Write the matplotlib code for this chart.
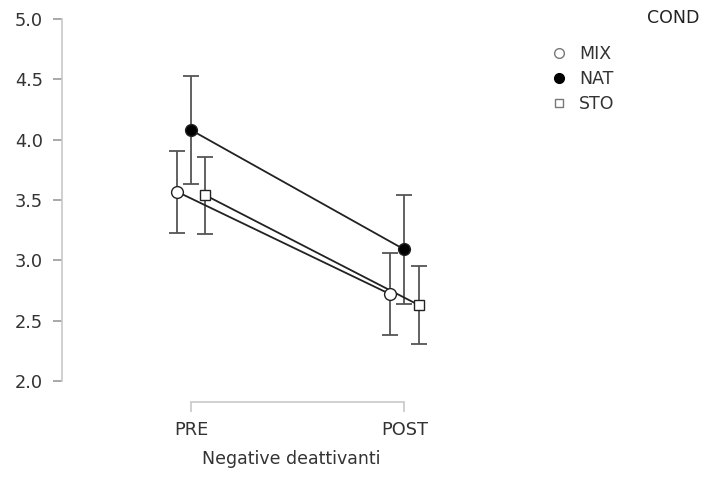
import matplotlib.pyplot as plt
import numpy as np
from matplotlib.lines import Line2D

times = ["PRE", "POST"]
groups = ["MIX", "NAT", "STO"]
means = {
    "MIX": [3.57, 2.72],
    "NAT": [4.08, 3.09],
    "STO": [3.54, 2.63],
}
errs = {
    "MIX": [0.34, 0.34],
    "NAT": [0.45, 0.45],
    "STO": [0.32, 0.32],
}

styles = {
    "MIX": dict(marker="o", mfc="white", ms=8.5),
    "NAT": dict(marker="o", mfc="black", ms=8.5),
    "STO": dict(marker="s", mfc="white", ms=7.5),
}
offsets = {"MIX": -0.067, "NAT": 0.0, "STO": 0.067}

plt.rcParams['font.family'] = ['DejaVu Sans']
W, H = 708, 482
fig = plt.figure(figsize=(W / 100, H / 100), dpi=100)

# axes placed in pixel terms: spine x=62, y from 19 (5.0) to 381 (2.0)
left_px, right_px, top_px, bot_px = 62, 520, 19, 381
ax = fig.add_axes([left_px / W, 1 - bot_px / H, (right_px - left_px) / W, (bot_px - top_px) / H])

x = np.arange(len(times))
px_per_unit = 404.3 - 191
ax.set_xlim((left_px - 191) / px_per_unit, (right_px - 191) / px_per_unit)
ax.set_ylim(2.0, 5.0)

for g in groups:
    xs = x + offsets[g]
    ax.errorbar(xs, means[g], yerr=errs[g], fmt="none", ecolor="#555555",
                elinewidth=1.3, capsize=5.5, capthick=1.3, zorder=2)
    ax.plot(xs, means[g], color="#222222", lw=1.3, zorder=3)
    ax.plot(xs, means[g], ls="none", mec="#222222", mew=1.0, zorder=4, **styles[g])

spine_col = "#c8c8c8"
for s in ["top", "right"]:
    ax.spines[s].set_visible(False)
ax.spines["left"].set_color(spine_col)
ax.spines["left"].set_linewidth(1.2)
ax.spines["left"].set_bounds(2.0, 5.0)
ax.spines["bottom"].set_color(spine_col)
ax.spines["bottom"].set_linewidth(1.2)
ax.spines["bottom"].set_position(("outward", 15))
ax.spines["bottom"].set_bounds(0, 1)

ax.set_yticks(np.arange(2.0, 5.01, 0.5))
ax.set_yticklabels([f"{v:.1f}" for v in np.arange(2.0, 5.01, 0.5)])
ax.set_xticks(x)
ax.set_xticklabels(times)
ax.tick_params(axis="y", length=6.5, width=1.2, color="#999999", pad=7,
               labelsize=12.8, labelcolor="#333333")
ax.tick_params(axis="x", direction="out", length=7, width=1.2, color=spine_col, pad=7,
               labelsize=12.8, labelcolor="#333333")
ax.set_xlabel("Negative deattivanti", fontsize=12.5, color="#333333", labelpad=8)

handles = [Line2D([], [], ls="none", mec="#777777", mew=1.0,
                  **{**styles[g], "ms": styles[g]["ms"] - 1.5}) for g in groups]
handles[1].set_markeredgecolor("black")
leg = fig.legend(handles, groups, loc="upper left", bbox_to_anchor=(545 / W, 1 - 38 / H),
                 frameon=False, fontsize=12.5, handlelength=0.8, handletextpad=0.75,
                 labelspacing=0.4, borderaxespad=0)
for t in leg.get_texts():
    t.set_color("#333333")
fig.text(647 / W, 1 - 18 / H, "COND", fontsize=12.5, color="#222222", va="center", ha="left")

fig.savefig("out.png", dpi=100)
